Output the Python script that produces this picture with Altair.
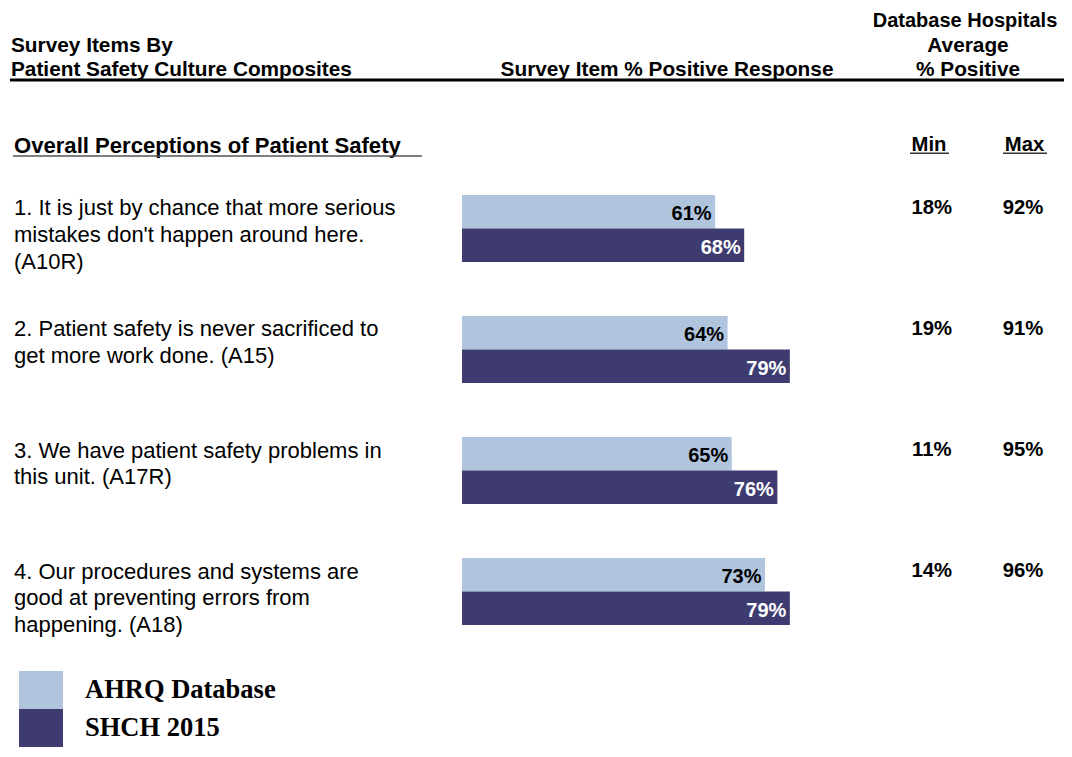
import altair as alt
import pandas as pd

# ---------------- data ----------------
items = ["1", "2", "3", "4"]
item_labels = [
    ["1. It is just by chance that more serious", "mistakes don't happen around here.", "(A10R)"],
    ["2. Patient safety is never sacrificed to", "get more work done. (A15)"],
    ["3. We have patient safety problems in", "this unit. (A17R)"],
    ["4. Our procedures and systems are", "good at preventing errors from", "happening. (A18)"],
]
series = ["AHRQ Database", "SHCH 2015"]
ahrq_values = [61, 64, 65, 73]
shch_values = [68, 79, 76, 79]
min_values = ["18%", "19%", "11%", "14%"]
max_values = ["92%", "91%", "95%", "96%"]
colors = ["#B0C4DE", "#3D3B6F"]

section_title = "Overall Perceptions of Patient Safety"
left_header = ["Survey Items By", "Patient Safety Culture Composites"]
mid_header = "Survey Item % Positive Response"
right_header = ["Database Hospitals", "Average", "% Positive"]

# ---------------- tables ----------------
bars = pd.DataFrame(
    [{"item": it, "series": series[0], "value": v} for it, v in zip(items, ahrq_values)]
    + [{"item": it, "series": series[1], "value": v} for it, v in zip(items, shch_values)]
)
labels_df = pd.DataFrame({"item": items, "label": item_labels})
minmax_df = pd.DataFrame({"item": items, "min": min_values, "max": max_values})

SANS = "Liberation Sans"

x_scale = alt.Scale(domain=[0, 100], range=[454, 869])
y_scale = alt.Scale(domain=items, range=[187, 617], paddingInner=0.4463, paddingOuter=0)
yoff_scale = alt.Scale(domain=series, paddingInner=0, paddingOuter=0)

base = alt.Chart(bars)

bar_layer = base.mark_bar(cornerRadius=0).encode(
    x=alt.X("value:Q", scale=x_scale, axis=None),
    y=alt.Y("item:N", scale=y_scale, axis=None),
    yOffset=alt.YOffset("series:N", scale=yoff_scale, sort=series),
    color=alt.Color(
        "series:N",
        scale=alt.Scale(domain=series, range=colors),
        legend=alt.Legend(
            title=None,
            orient="none",
            legendX=14,
            legendY=663,
            padding=0,
            symbolType="M-1.158,-1H1.158V1H-1.158Z",
            symbolSize=1444,
            symbolStrokeWidth=0,
            symbolOpacity=1,
            rowPadding=0,
            labelFont="Liberation Serif",
            labelFontSize=26.5,
            labelFontWeight="bold",
            labelColor="black",
            labelOffset=25,
            labelLimit=400,
        ),
    ),
)

bar_text = base.transform_calculate(lbl="datum.value + '%'").mark_text(
    align="right", baseline="middle", dx=-3.5, dy=2.5, font=SANS, fontSize=20, fontWeight="bold"
).encode(
    x=alt.X("value:Q", scale=x_scale, axis=None),
    y=alt.Y("item:N", scale=y_scale, axis=None),
    yOffset=alt.YOffset("series:N", scale=yoff_scale, sort=series),
    text="lbl:N",
    color=alt.condition(
        "datum.series == 'SHCH 2015'", alt.value("white"), alt.value("black")
    ),
)

item_text = alt.Chart(labels_df).mark_text(
    align="left", baseline="top", dy=-30, lineHeight=26.8, font=SANS, fontSize=22, color="black"
).encode(
    x=alt.value(6),
    y=alt.Y("item:N", scale=y_scale, axis=None),
    text="label",
)

min_text = alt.Chart(minmax_df).mark_text(
    align="center", baseline="alphabetic", dy=-14.5, font=SANS, fontSize=20.3, fontWeight="bold", color="black"
).encode(x=alt.value(923.7), y=alt.Y("item:N", scale=y_scale, axis=None), text="min:N")

max_text = alt.Chart(minmax_df).mark_text(
    align="center", baseline="alphabetic", dy=-14.5, font=SANS, fontSize=20.3, fontWeight="bold", color="black"
).encode(x=alt.value(1015), y=alt.Y("item:N", scale=y_scale, axis=None), text="max:N")


def label(text, x, y, align="left", size=20.8, weight="bold"):
    return alt.Chart(pd.DataFrame({"t": [text]})).mark_text(
        align=align, baseline="alphabetic", font=SANS, fontSize=size, fontWeight=weight, color="black"
    ).encode(x=alt.value(x), y=alt.value(y), text="t:N")


def rule(x1, x2, y, width, color):
    return alt.Chart(pd.DataFrame({"r": [0]})).mark_rule(strokeWidth=width, color=color).encode(
        x=alt.value(x1), x2=alt.value(x2), y=alt.value(y)
    )


headers = [
    label(left_header[0], 3, 43.5),
    label(left_header[1], 3, 67.5),
    label(mid_header, 659, 67.5, align="center"),
    label(right_header[0], 957, 19, align="center", size=20),
    label(right_header[1], 960, 43.5, align="center"),
    label(right_header[2], 960, 68, align="center"),
    label(section_title, 6, 145.3, size=22.1),
    label("Min", 921, 142.7, align="center", size=20.3),
    label("Max", 1016.5, 142.7, align="center", size=20.3),
]
rules = [
    rule(2, 1056, 72, 3, "black"),
    rule(5, 414, 148, 1.5, "#555555"),
    rule(902, 941, 145.3, 1.5, "#333333"),
    rule(995, 1039, 145.3, 1.5, "#333333"),
]

chart = alt.layer(
    bar_layer, bar_text, item_text, min_text, max_text, *headers, *rules
).properties(
    width=1056, height=741, padding=0, autosize=alt.AutoSizeParams(type="none"), background="white"
).configure_view(stroke=None)

chart.save("out.html", embed_options={"renderer": "svg", "actions": False})
